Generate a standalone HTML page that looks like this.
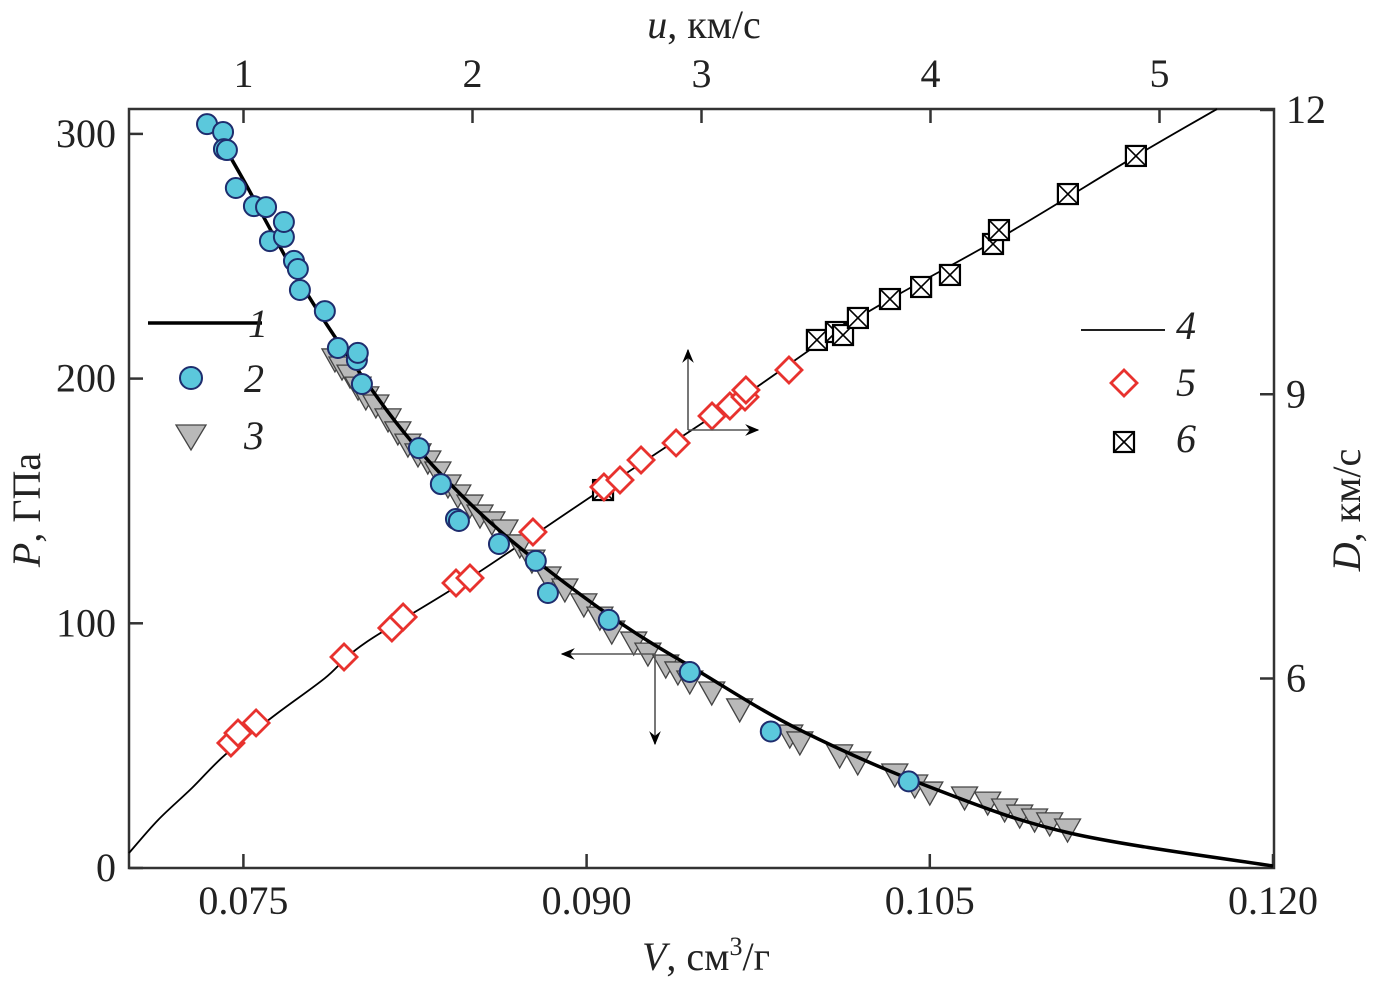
<!DOCTYPE html>
<html><head><meta charset="utf-8">
<style>
html,body{margin:0;padding:0;background:#fff;}
svg{display:block;font-family:"Liberation Serif",serif;}
</style></head>
<body>
<svg id="chart" width="1375" height="985" viewBox="0 0 1375 985" xmlns="http://www.w3.org/2000/svg">
<defs>
<marker id="ah" viewBox="0 0 12 10" refX="11" refY="5" markerWidth="14" markerHeight="12" markerUnits="userSpaceOnUse" orient="auto"><path d="M0,0 L12,5 L0,10 L4,5 Z" fill="#000"/></marker>
</defs>
<g id="frame"></g>
<g id="series"></g>
<g id="annot"></g>
</svg>
<script>
// ---- data ----
const vTicks = [0.075, 0.090, 0.105, 0.120];
const vTickLabels = ["0.075", "0.090", "0.105", "0.120"];
const pTicks = [0, 100, 200, 300];
const uTicks = [1, 2, 3, 4, 5];
const dTicks = [6, 9, 12];

const curve1V = [0.07384,0.07500,0.07747,0.08000,0.08267,0.08617,0.09097,0.09495,0.09932,0.10500,0.11111,0.12000];
const curve1P = [300,281.2,239.5,203.5,170.8,138.1,103.4,80.1,56.4,33.1,14.3,0.8];

const s2V = [0.07341,0.07411,0.07415,0.07428,0.07467,0.07546,0.07599,0.07616,0.07677,0.07677,0.07721,0.07738,0.07747,0.07856,0.07913,0.07996,0.08000,0.08018,0.08267,0.08363,0.08429,0.08442,0.08617,0.08778,0.08831,0.09097,0.09451,0.09805,0.10408];
const s2P = [304.0,300.8,293.8,293.4,277.9,270.5,270.1,256.2,257.9,264.0,248.1,244.8,236.2,227.6,212.5,207.6,210.5,197.8,171.6,156.9,142.6,141.8,132.4,125.5,112.4,101.4,80.1,55.8,35.4];

const s3V = [0.07900,0.07931,0.07966,0.08001,0.08035,0.08079,0.08132,0.08175,0.08219,0.08263,0.08306,0.08350,0.08394,0.08437,0.08490,0.08534,0.08586,0.08643,0.08708,0.08761,0.08831,0.08905,0.08988,0.09058,0.09110,0.09206,0.09268,0.09346,0.09399,0.09451,0.09547,0.09669,0.09888,0.09932,0.10106,0.10185,0.10347,0.10434,0.10500,0.10652,0.10753,0.10827,0.10893,0.10958,0.11024,0.11102];
const s3P = [206.8,203.5,200.2,195.3,191.3,188.0,182.3,177.0,172.0,168.0,165.1,160.6,155.3,151.2,147.1,143.0,140.2,136.9,130.8,124.6,117.7,112.8,106.7,101.3,95.6,91.1,86.6,81.7,78.9,75.2,70.7,63.8,53.1,50.3,45.0,42.1,37.2,32.7,29.8,27.8,25.7,22.9,20.4,18.8,17.2,14.7];

const curve4U = [0.5,0.627,0.775,0.919,1.138,1.356,1.531,1.989,2.574,3.190,3.683,4.303,4.897,5.251];
const curve4D = [4.158,4.507,4.844,5.193,5.615,6.005,6.375,7.061,8.011,8.992,9.805,10.649,11.515,12.01];

const s5U = [0.945,0.976,1.055,1.439,1.648,1.697,1.928,1.989,2.264,2.574,2.644,2.736,2.889,3.046,3.124,3.190,3.194,3.382];
const s5D = [5.319,5.425,5.531,6.227,6.533,6.649,7.008,7.061,7.546,8.021,8.095,8.306,8.486,8.771,8.876,8.971,9.045,9.256];

const s6U = [2.570,3.504,3.587,3.618,3.683,3.823,3.959,4.085,4.273,4.299,4.600,4.897];
const s6D = [7.989,9.573,9.657,9.625,9.805,10.005,10.132,10.259,10.586,10.733,11.113,11.515];

// ---- scales ----
const L=129,R=1274,T=109,B=868;
const xV = v => 129 + (v-0.070)/0.050*(1273-129);
const yP = p => 868 - p*2.447;
const xU = u => 129 + (u-0.5)*229;
const yD = d => 868 - (d-4)*94.75;

const NS="http://www.w3.org/2000/svg";
function mk(tag, attrs, parent){const e=document.createElementNS(NS,tag);for(const k in attrs)e.setAttribute(k,attrs[k]);parent.appendChild(e);return e;}
const frame=document.getElementById('frame'), ser=document.getElementById('series'), ann=document.getElementById('annot');
const FS=40;

let fr=mk('rect',{x:L,y:T,width:R-L,height:B-T,fill:'none',stroke:'#333','stroke-width':2.5},frame);



vTicks.forEach((v,i)=>{
  const x=xV(v);
  const t=mk('line',{x1:x,y1:B,x2:x,y2:B-14,stroke:'#333','stroke-width':2.5},frame);
  
  
  const lb=mk('text',{x:x,y:914,'font-size':FS,'text-anchor':'middle',fill:'#222'},frame);
  lb.textContent=vTickLabels[i];
  
  
});
pTicks.forEach(p=>{
  const y=yP(p);
  const t=mk('line',{x1:L,y1:y,x2:L+14,y2:y,stroke:'#333','stroke-width':2.5},frame);
  
  
  const lb=mk('text',{x:116,y:y+13,'font-size':FS,'text-anchor':'end',fill:'#222'},frame);
  lb.textContent=String(p);
  
  
});
uTicks.forEach(u=>{
  const x=xU(u);
  const t=mk('line',{x1:x,y1:T,x2:x,y2:T+14,stroke:'#333','stroke-width':2.5},frame);
  
  
  const lb=mk('text',{x:x,y:87,'font-size':FS,'text-anchor':'middle',fill:'#222'},frame);
  lb.textContent=String(u);
  
  
});
dTicks.forEach(d=>{
  const y=yD(d);
  const t=mk('line',{x1:R,y1:y,x2:R-14,y2:y,stroke:'#333','stroke-width':2.5},frame);
  
  
  const lb=mk('text',{x:1286,y:y+13,'font-size':FS,'text-anchor':'start',fill:'#222'},frame);
  lb.textContent=String(d);
  
  
});

function smooth(pts){
  let d='M'+pts[0][0]+','+pts[0][1];
  for(let i=0;i<pts.length-1;i++){
    const p0=pts[Math.max(i-1,0)],p1=pts[i],p2=pts[i+1],p3=pts[Math.min(i+2,pts.length-1)];
    const c1=[p1[0]+(p2[0]-p0[0])/6,p1[1]+(p2[1]-p0[1])/6];
    const c2=[p2[0]-(p3[0]-p1[0])/6,p2[1]-(p3[1]-p1[1])/6];
    d+=' C'+c1[0]+','+c1[1]+' '+c2[0]+','+c2[1]+' '+p2[0]+','+p2[1];
  }
  return d;
}
const c4=mk('path',{d:smooth(curve4U.map((u,i)=>[xU(u),yD(curve4D[i])])),fill:'none',stroke:'#000','stroke-width':1.8},ser);



s3V.forEach((v,i)=>{
  const x=xV(v), y=yP(s3P[i])-4;
  const t=mk('path',{d:`M${x-13},${y-9} L${x+13},${y-9} L${x},${y+14} Z`,fill:'#b9b9b9',stroke:'#444','stroke-width':1.3},ser);
  
  
});
const c1=mk('path',{d:smooth(curve1V.map((v,i)=>[xV(v),yP(curve1P[i])])),fill:'none',stroke:'#000','stroke-width':3.5},ser);



s2V.forEach((v,i)=>{
  const c=mk('circle',{cx:xV(v),cy:yP(s2P[i]),r:10,fill:'#5bc8dc',stroke:'#1e2d6e','stroke-width':2},ser);
  
  
});
function square(x,y,g){
  const s=10;
  mk('rect',{x:x-s,y:y-s,width:2*s,height:2*s,fill:'#fff',stroke:'#000','stroke-width':2.2},g);
  mk('path',{d:`M${x-s},${y-s} L${x+s},${y+s} M${x+s},${y-s} L${x-s},${y+s}`,stroke:'#000','stroke-width':1.6},g);
}
s6U.forEach((u,i)=>{
  const g=mk('g',{},ser);
  
  
  square(xU(u),yD(s6D[i]),g);
});
function diamond(x,y,g){
  return mk('path',{d:`M${x},${y-13} L${x+13},${y} L${x},${y+13} L${x-13},${y} Z`,fill:'#fff',stroke:'#e8322e','stroke-width':2.8},g);
}
s5U.forEach((u,i)=>{
  const d=diamond(xU(u),yD(s5D[i]),ser);
  
  
});

// arrows
[[688,430,688,350],[688,430,758,430],[655,654,562,654],[655,654,655,744]].forEach(a=>{
  const l=mk('line',{x1:a[0],y1:a[1],x2:a[2],y2:a[3],stroke:'#555','stroke-width':1.6,'marker-end':'url(#ah)'},ann);
  
  
});

// legends
function lt(x,y,txt){const t=mk('text',{x:x,y:y,'font-size':FS,'font-style':'italic',fill:'#222'},ann);t.textContent=txt;}
let e;
e=mk('line',{x1:148,y1:323,x2:262,y2:323,stroke:'#000','stroke-width':3.5},ann);


lt(248,337,'1');
e=mk('circle',{cx:191,cy:378,r:11,fill:'#5bc8dc',stroke:'#1e2d6e','stroke-width':2},ann);


lt(244,392,'2');
e=mk('path',{d:'M176,425 L206,425 L191,450 Z',fill:'#b9b9b9',stroke:'#444','stroke-width':1.3},ann);


lt(244,449,'3');
e=mk('line',{x1:1081,y1:330,x2:1165,y2:330,stroke:'#000','stroke-width':1.8},ann);


lt(1176,339,'4');
e=diamond(1124,383,ann);


lt(1176,396,'5');
e=mk('g',{},ann);


square(1124,442,e);
lt(1176,452,'6');

// axis titles
function title(html,attrs,name){const t=mk('text',attrs,ann);t.innerHTML=html;}
title('<tspan font-style="italic">V</tspan>, см<tspan font-size="26" dy="-15">3</tspan><tspan dy="15">/г</tspan>',{x:706,y:970,'font-size':FS,'text-anchor':'middle',fill:'#222'},'x-axis-title');
title('<tspan font-style="italic">u</tspan>, км/с',{x:704,y:38,'font-size':FS,'text-anchor':'middle',fill:'#222'},'top-axis-title');
title('<tspan font-style="italic">P</tspan>, ГПа',{x:0,y:0,'font-size':FS,'text-anchor':'middle',fill:'#222',transform:'translate(40,510) rotate(-90)'},'y-axis-title');
title('<tspan font-style="italic">D</tspan>, км/с',{x:0,y:0,'font-size':FS,'text-anchor':'middle',fill:'#222',transform:'translate(1360,510) rotate(-90)'},'right-axis-title');
</script>
</body></html>
